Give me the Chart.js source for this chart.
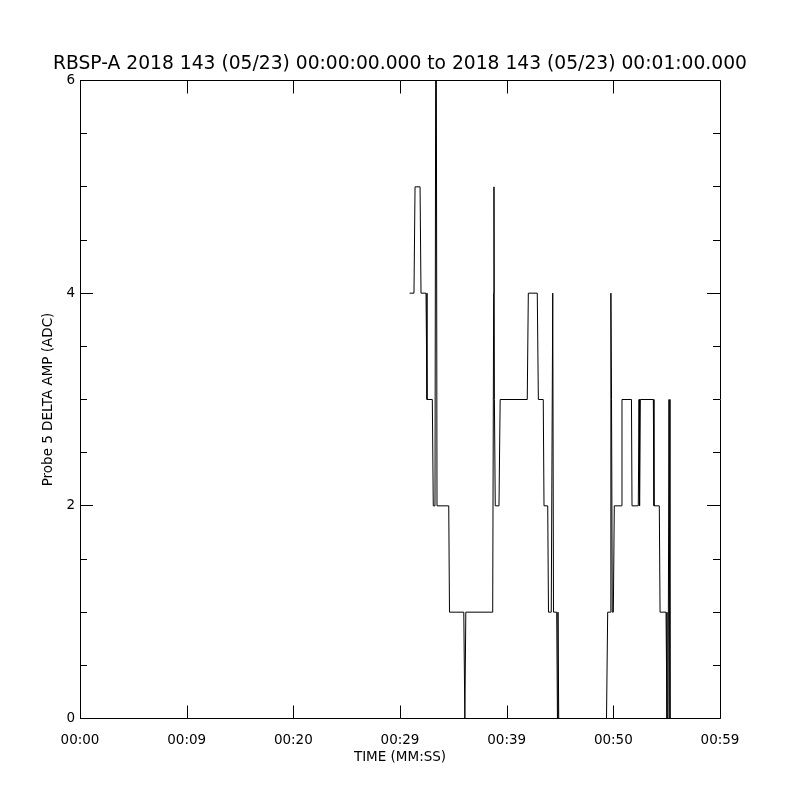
<!DOCTYPE html>
<html>
<head>
<meta charset="utf-8">
<script src="https://cdn.jsdelivr.net/npm/chart.js@4"></script>
<style>
  html, body { margin: 0; padding: 0; background: #fff; }
  #wrap { width: 800px; height: 800px; }
</style>
</head>
<body>
<div id="wrap"><canvas id="chart" width="800" height="800"></canvas></div>
<script>
// =======================
// DATA
// =======================
const titleText = 'RBSP-A 2018 143 (05/23) 00:00:00.000 to 2018 143 (05/23) 00:01:00.000';
const xTitle = 'TIME (MM:SS)';
const yTitle = 'Probe 5 DELTA AMP (ADC)';

// tick labels at 0,10,...,60 seconds
const xTickLabels = ['00:00', '00:09', '00:20', '00:29', '00:39', '00:50', '00:59'];
const yMajorTicks = [0, 2, 4, 6];

// seconds after 00:00:00
const times = [
  30.90, 31.31, 31.41, 31.88, 31.97, 32.44, 32.53, 33.03, 33.12, 33.28,
  33.34, 33.41, 33.47, 34.57, 34.64, 35.98, 36.08, 36.17, 38.69, 38.78,
  38.81, 38.85, 38.93, 39.28, 39.39, 41.93, 42.03, 42.87, 42.97, 43.43,
  43.50, 43.85, 43.92, 44.18, 44.32, 44.39, 44.69, 44.76, 44.81, 44.88,
  49.36, 49.47, 49.72, 49.77, 49.83, 49.90, 50.00, 50.09, 50.77, 50.81,
  51.70, 51.75, 52.34, 52.41, 52.46, 52.53, 53.75, 53.81, 54.31, 54.38,
  54.94, 55.03, 55.13, 55.22, 55.31
];
// delta amp (ADC)
const amps = [
  4, 4, 5, 5, 4, 4, 3, 3, 2, 2,
  6, 6, 2, 2, 1, 1, 0, 1, 1, 4,
  5, 3, 2, 2, 3, 3, 4, 4, 3, 3,
  2, 2, 1, 1, 4, 1, 1, 0, 1, 0,
  0, 1, 1, 4, 3, 1, 1, 2, 2, 3,
  3, 2, 2, 3, 2, 3, 3, 2, 2, 1,
  1, 0, 0, 3, 0
];

const points = times.map((t, i) => ({ x: t, y: amps[i] }));

const FONT = 'DejaVu Sans';

// =======================
// FRAME + INWARD TICKS (IDL style)
// =======================
const frameTicks = {
  id: 'frameTicks',
  afterDraw(chart) {
    const ctx = chart.ctx;
    const a = chart.chartArea;
    const xs = chart.scales.x;
    const ys = chart.scales.y;
    ctx.save();
    ctx.strokeStyle = '#000';
    ctx.lineWidth = 1;
    ctx.beginPath();
    // top/bottom sit on half pixels already, so the 0 and 6 levels overlap the frame
    ctx.rect(a.left + 0.5, a.top, a.right - a.left, a.bottom - a.top);
    // x ticks bottom and top
    xs.ticks.forEach(t => {
      const px = Math.round(xs.getPixelForValue(t.value)) + 0.5;
      ctx.moveTo(px, a.bottom); ctx.lineTo(px, a.bottom - 13);
      ctx.moveTo(px, a.top); ctx.lineTo(px, a.top + 13);
    });
    // y ticks left and right
    ys.ticks.forEach(t => {
      const len = yMajorTicks.includes(t.value) ? 13 : 7;
      const py = Math.floor(ys.getPixelForValue(t.value)) + 0.5;
      ctx.moveTo(a.left, py); ctx.lineTo(a.left + len, py);
      ctx.moveTo(a.right, py); ctx.lineTo(a.right - len, py);
    });
    ctx.stroke();
    ctx.restore();
  }
};

// =======================
// CHART
// =======================
new Chart(document.getElementById('chart'), {
  type: 'scatter',
  data: {
    datasets: [{
      data: points,
      showLine: true,
      borderColor: '#000',
      borderWidth: 1,
      pointRadius: 0,
      tension: 0
    }]
  },
  options: {
    responsive: false,
    animation: false,
    plugins: {
      legend: { display: false },
      tooltip: { enabled: false },
      title: {
        display: true,
        text: titleText,
        color: '#000',
        font: { family: FONT, size: 18.7, weight: 'normal' },
        padding: { top: 52.8, bottom: 5.26 }
      }
    },
    scales: {
      x: {
        type: 'linear',
        min: 0,
        max: 60,
        grid: { display: false, drawTicks: false },
        border: { display: false },
        ticks: {
          stepSize: 10,
          padding: 14,
          color: '#000',
          maxRotation: 0,
          font: { family: FONT, size: 13.5 },
          callback: (v, i) => xTickLabels[i]
        },
        title: {
          display: true,
          text: xTitle,
          color: '#000',
          font: { family: FONT, size: 13.5 },
          padding: { top: 0, bottom: 34 }
        },
        afterFit(scale) { scale.height = 81.5; }
      },
      y: {
        min: 0,
        max: 6,
        grid: { display: false, drawTicks: false },
        border: { display: false },
        ticks: {
          stepSize: 0.5,
          padding: 5,
          color: '#000',
          autoSkip: false,
          font: { family: FONT, size: 13.5 },
          callback: v => yMajorTicks.includes(v) ? String(v) : ''
        },
        title: {
          display: true,
          text: yTitle,
          color: '#000',
          font: { family: FONT, size: 13.5 },
          padding: { top: 40, bottom: 0 }
        },
        afterFit(scale) { scale.width = 80; }
      },
      // empty right-hand axis, keeps the plot box 80px from the right edge
      yRight: {
        position: 'right',
        min: 0,
        max: 6,
        grid: { display: false, drawTicks: false },
        border: { display: false },
        ticks: { display: false },
        afterFit(scale) { scale.width = 80; }
      }
    }
  },
  plugins: [frameTicks]
});
</script>
</body>
</html>
